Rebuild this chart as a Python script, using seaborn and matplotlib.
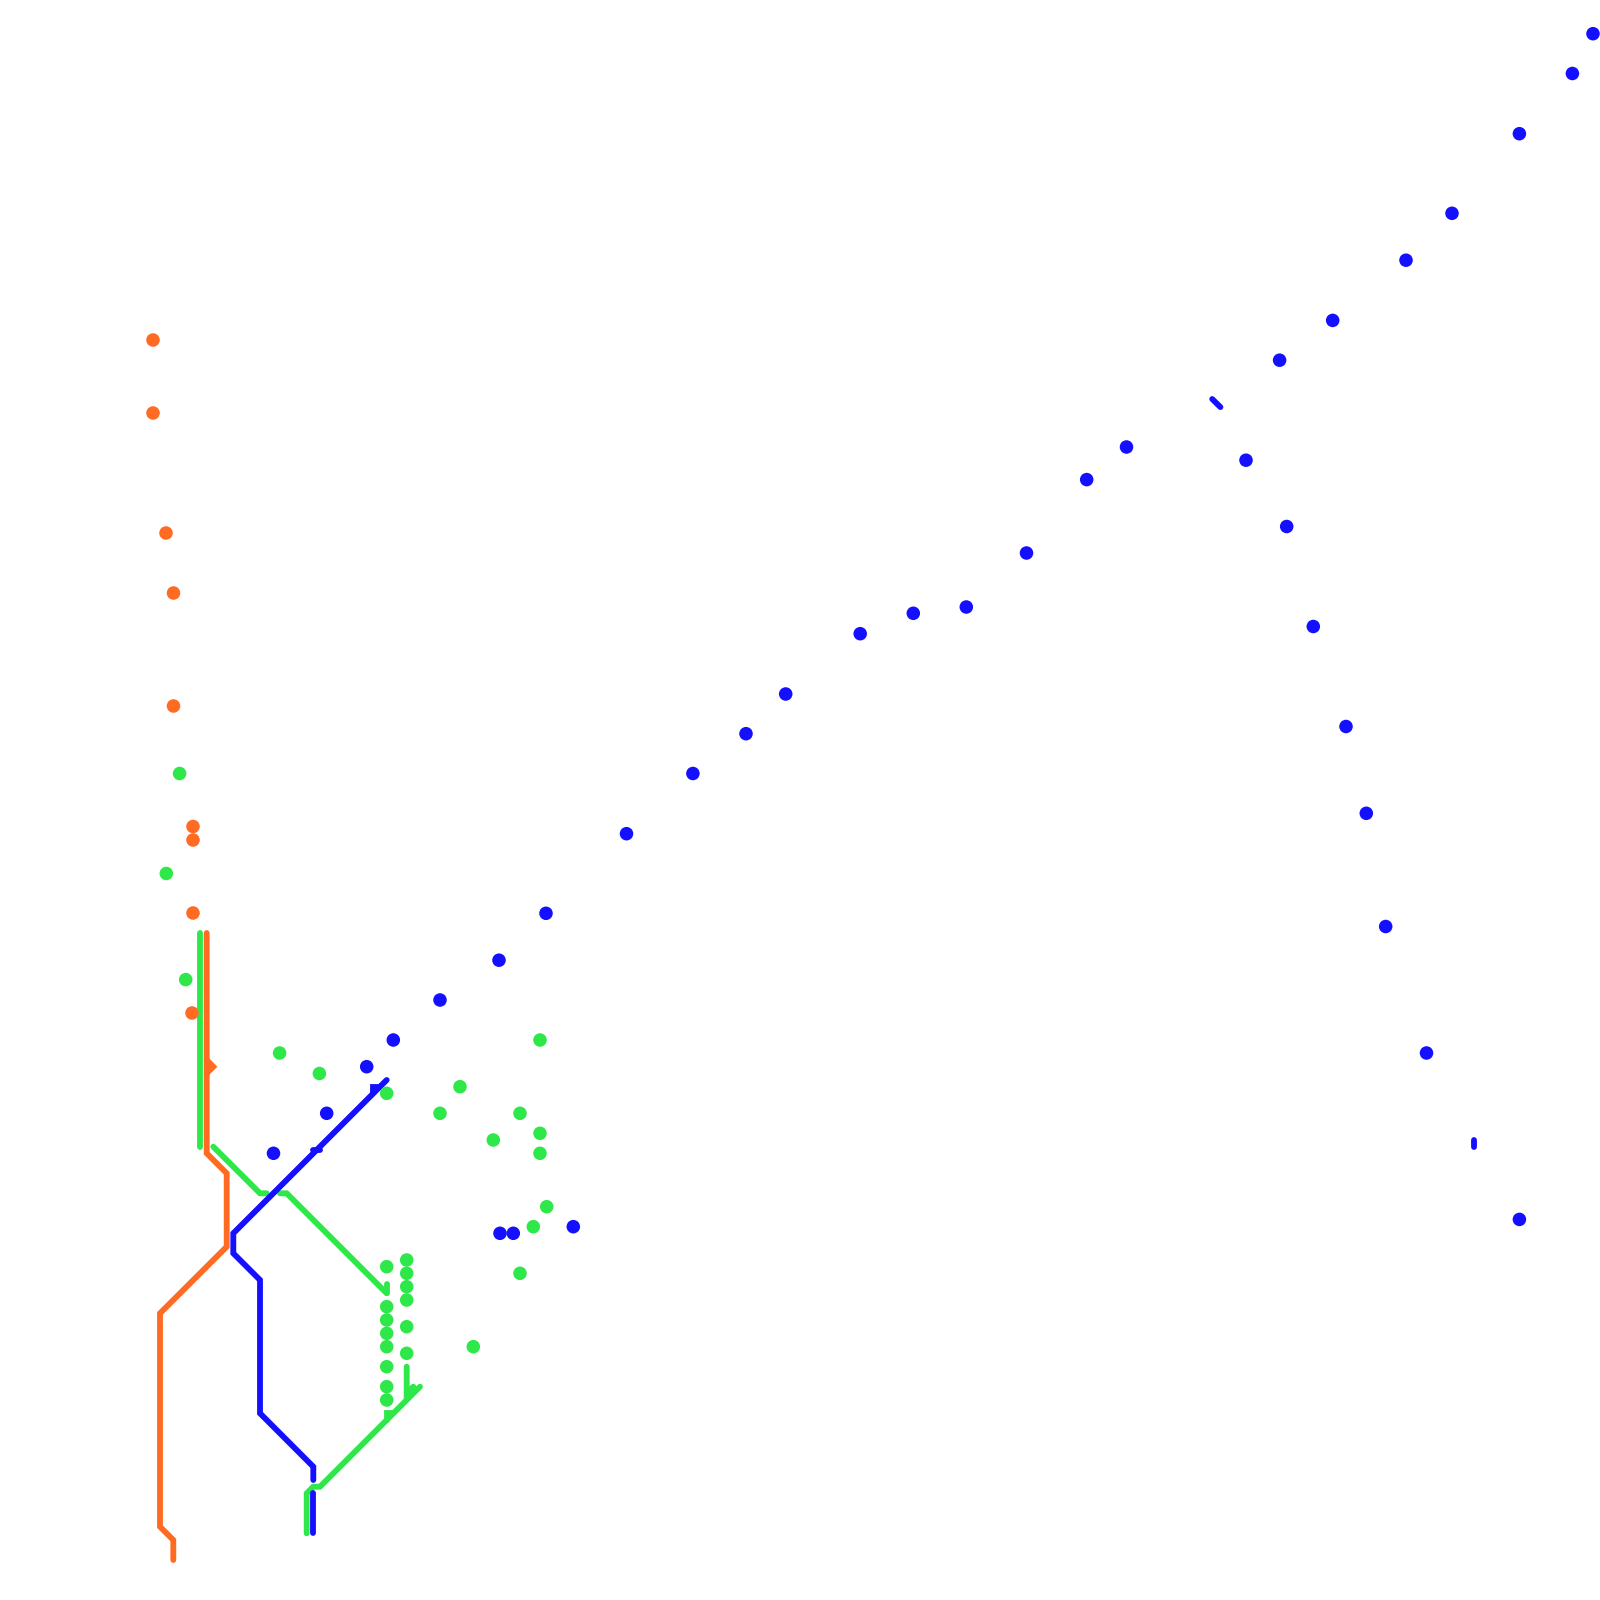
import numpy as np
import pandas as pd
import matplotlib
matplotlib.use('Agg')
import matplotlib.pyplot as plt
import seaborn as sns

# ============================================================
# Colours
# ============================================================
ORANGE = '#ff6b22'
GREEN = '#2ee84a'
BLUE = '#1410ff'

# ============================================================
# Data (pixel coordinates, y grows downward)
# ============================================================
orange_dot_x = [153, 153, 166, 173.5, 173.5, 193, 193, 193, 192]
orange_dot_y = [340, 413, 533, 593, 706, 826.5, 840, 913, 1013]

green_dot_x = [179.6, 166.3, 185.7, 279.6, 319.4, 386.7, 540, 460, 440, 520, 540,
               493.3, 540, 546.7, 533.3, 520, 386.7,
               386.7, 386.7, 386.7, 386.7, 386.7, 386.7, 386.7,
               406.7, 406.7, 406.7, 406.7, 406.7, 406.7, 473.3]
green_dot_y = [773.5, 873.5, 979.6, 1053, 1073.5, 1093.3, 1040, 1086.7, 1113.3, 1113.3, 1133.3,
               1140, 1153.3, 1206.7, 1226.7, 1273.3, 1266.7,
               1306.7, 1320, 1333.3, 1346.7, 1366.7, 1386.7, 1400,
               1260, 1273.3, 1286.7, 1300, 1326.7, 1353.3, 1346.7]

blue_dot_x = [1593, 1572.4, 1519.4, 1452, 1406, 1332.7, 1279.6, 1246, 1126.5, 1086.7,
              1026.5, 966.3, 913.3, 860.2, 785.7, 746, 692.9, 626.5, 546, 499,
              440, 393.3, 366.7, 326.7, 273.5, 500, 513.3, 573.3,
              1286.7, 1313.3, 1346, 1366.3, 1385.7, 1426.5, 1519.4]
blue_dot_y = [33.7, 73.5, 133.7, 213.3, 260.2, 320.4, 360.2, 460.2, 447, 479.6,
              553, 607, 613.3, 633.7, 694, 733.7, 773.5, 833.7, 913.3, 960.2,
              1000, 1040, 1066.7, 1113.3, 1153.3, 1233.3, 1233.3, 1226.7,
              526.5, 626.5, 726.5, 813.3, 926.5, 1053, 1219.4]

# line paths
orange_main_x = [206.7, 206.7, 226.7, 226.7, 160, 160, 173.3, 173.3]
orange_main_y = [933, 1153.3, 1173.3, 1246.7, 1313.3, 1526.7, 1540, 1560]
orange_tick_x = [206.7, 213.3, 206.7]
orange_tick_y = [1060, 1066.7, 1073.3]

green_vert_x = [200, 200]
green_vert_y = [933, 1146.7]
green_diag1_x = [213.3, 260, 266.7]
green_diag1_y = [1146.7, 1193.3, 1193.3]
green_diag2_x = [280, 286.7, 384, 386.7]
green_diag2_y = [1193.3, 1193.3, 1290.6, 1293.3]
green_stub1_x = [386.7, 386.7]
green_stub1_y = [1284, 1293.3]
green_low_x = [420, 320, 313.3, 306.7, 306.7]
green_low_y = [1386.7, 1486.7, 1486.7, 1493.3, 1533.3]
green_stub2_x = [386.7, 386.7, 393.3]
green_stub2_y = [1420, 1413.3, 1413.3]
green_branch_x = [406.7, 406.7, 413.3]
green_branch_y = [1366.7, 1393.3, 1386.7]

blue_main_x = [386.7, 233.3, 233.3, 260, 260, 313.3, 313.3]
blue_main_y = [1080, 1233.3, 1253.3, 1280, 1413.3, 1466.7, 1480]
blue_tail_x = [313.3, 313.3]
blue_tail_y = [1493.3, 1533.3]
blue_stub1_x = [373.3, 373.3, 380]
blue_stub1_y = [1093.3, 1086.7, 1086.7]
blue_stub2_x = [313.3, 320]
blue_stub2_y = [1150, 1150]
blue_seg1_x = [1212.2, 1220.4]
blue_seg1_y = [399, 407.1]
blue_seg2_x = [1473.5, 1473.5]
blue_seg2_y = [1139.8, 1147]

paths = [
    (GREEN, green_vert_x, green_vert_y),
    (ORANGE, orange_main_x, orange_main_y),
    (ORANGE, orange_tick_x, orange_tick_y),
    (GREEN, green_diag1_x, green_diag1_y),
    (GREEN, green_diag2_x, green_diag2_y),
    (GREEN, green_stub1_x, green_stub1_y),
    (GREEN, green_low_x, green_low_y),
    (GREEN, green_stub2_x, green_stub2_y),
    (GREEN, green_branch_x, green_branch_y),
    (BLUE, blue_main_x, blue_main_y),
    (BLUE, blue_tail_x, blue_tail_y),
    (BLUE, blue_stub1_x, blue_stub1_y),
    (BLUE, blue_stub2_x, blue_stub2_y),
    (BLUE, blue_seg1_x, blue_seg1_y),
    (BLUE, blue_seg2_x, blue_seg2_y),
]

# ============================================================
# Plot
# ============================================================
sns.set_style('white')

fig = plt.figure(figsize=(16, 16), dpi=100)
ax = fig.add_axes([0, 0, 1, 1])

for color, xs, ys in paths:
    ax.plot(xs, ys, color=color, linewidth=4.2,
            solid_capstyle='round', solid_joinstyle='miter', zorder=2)

dots = pd.concat([
    pd.DataFrame({'x': orange_dot_x, 'y': orange_dot_y, 'c': 'orange'}),
    pd.DataFrame({'x': green_dot_x, 'y': green_dot_y, 'c': 'green'}),
    pd.DataFrame({'x': blue_dot_x, 'y': blue_dot_y, 'c': 'blue'}),
])
sns.scatterplot(data=dots, x='x', y='y', hue='c',
                palette={'orange': ORANGE, 'green': GREEN, 'blue': BLUE},
                s=95, linewidth=0, legend=False, ax=ax, zorder=3)

ax.set_xlim(0, 1600)
ax.set_ylim(1600, 0)
ax.axis('off')

fig.savefig('out.png', dpi=100, facecolor='white')
